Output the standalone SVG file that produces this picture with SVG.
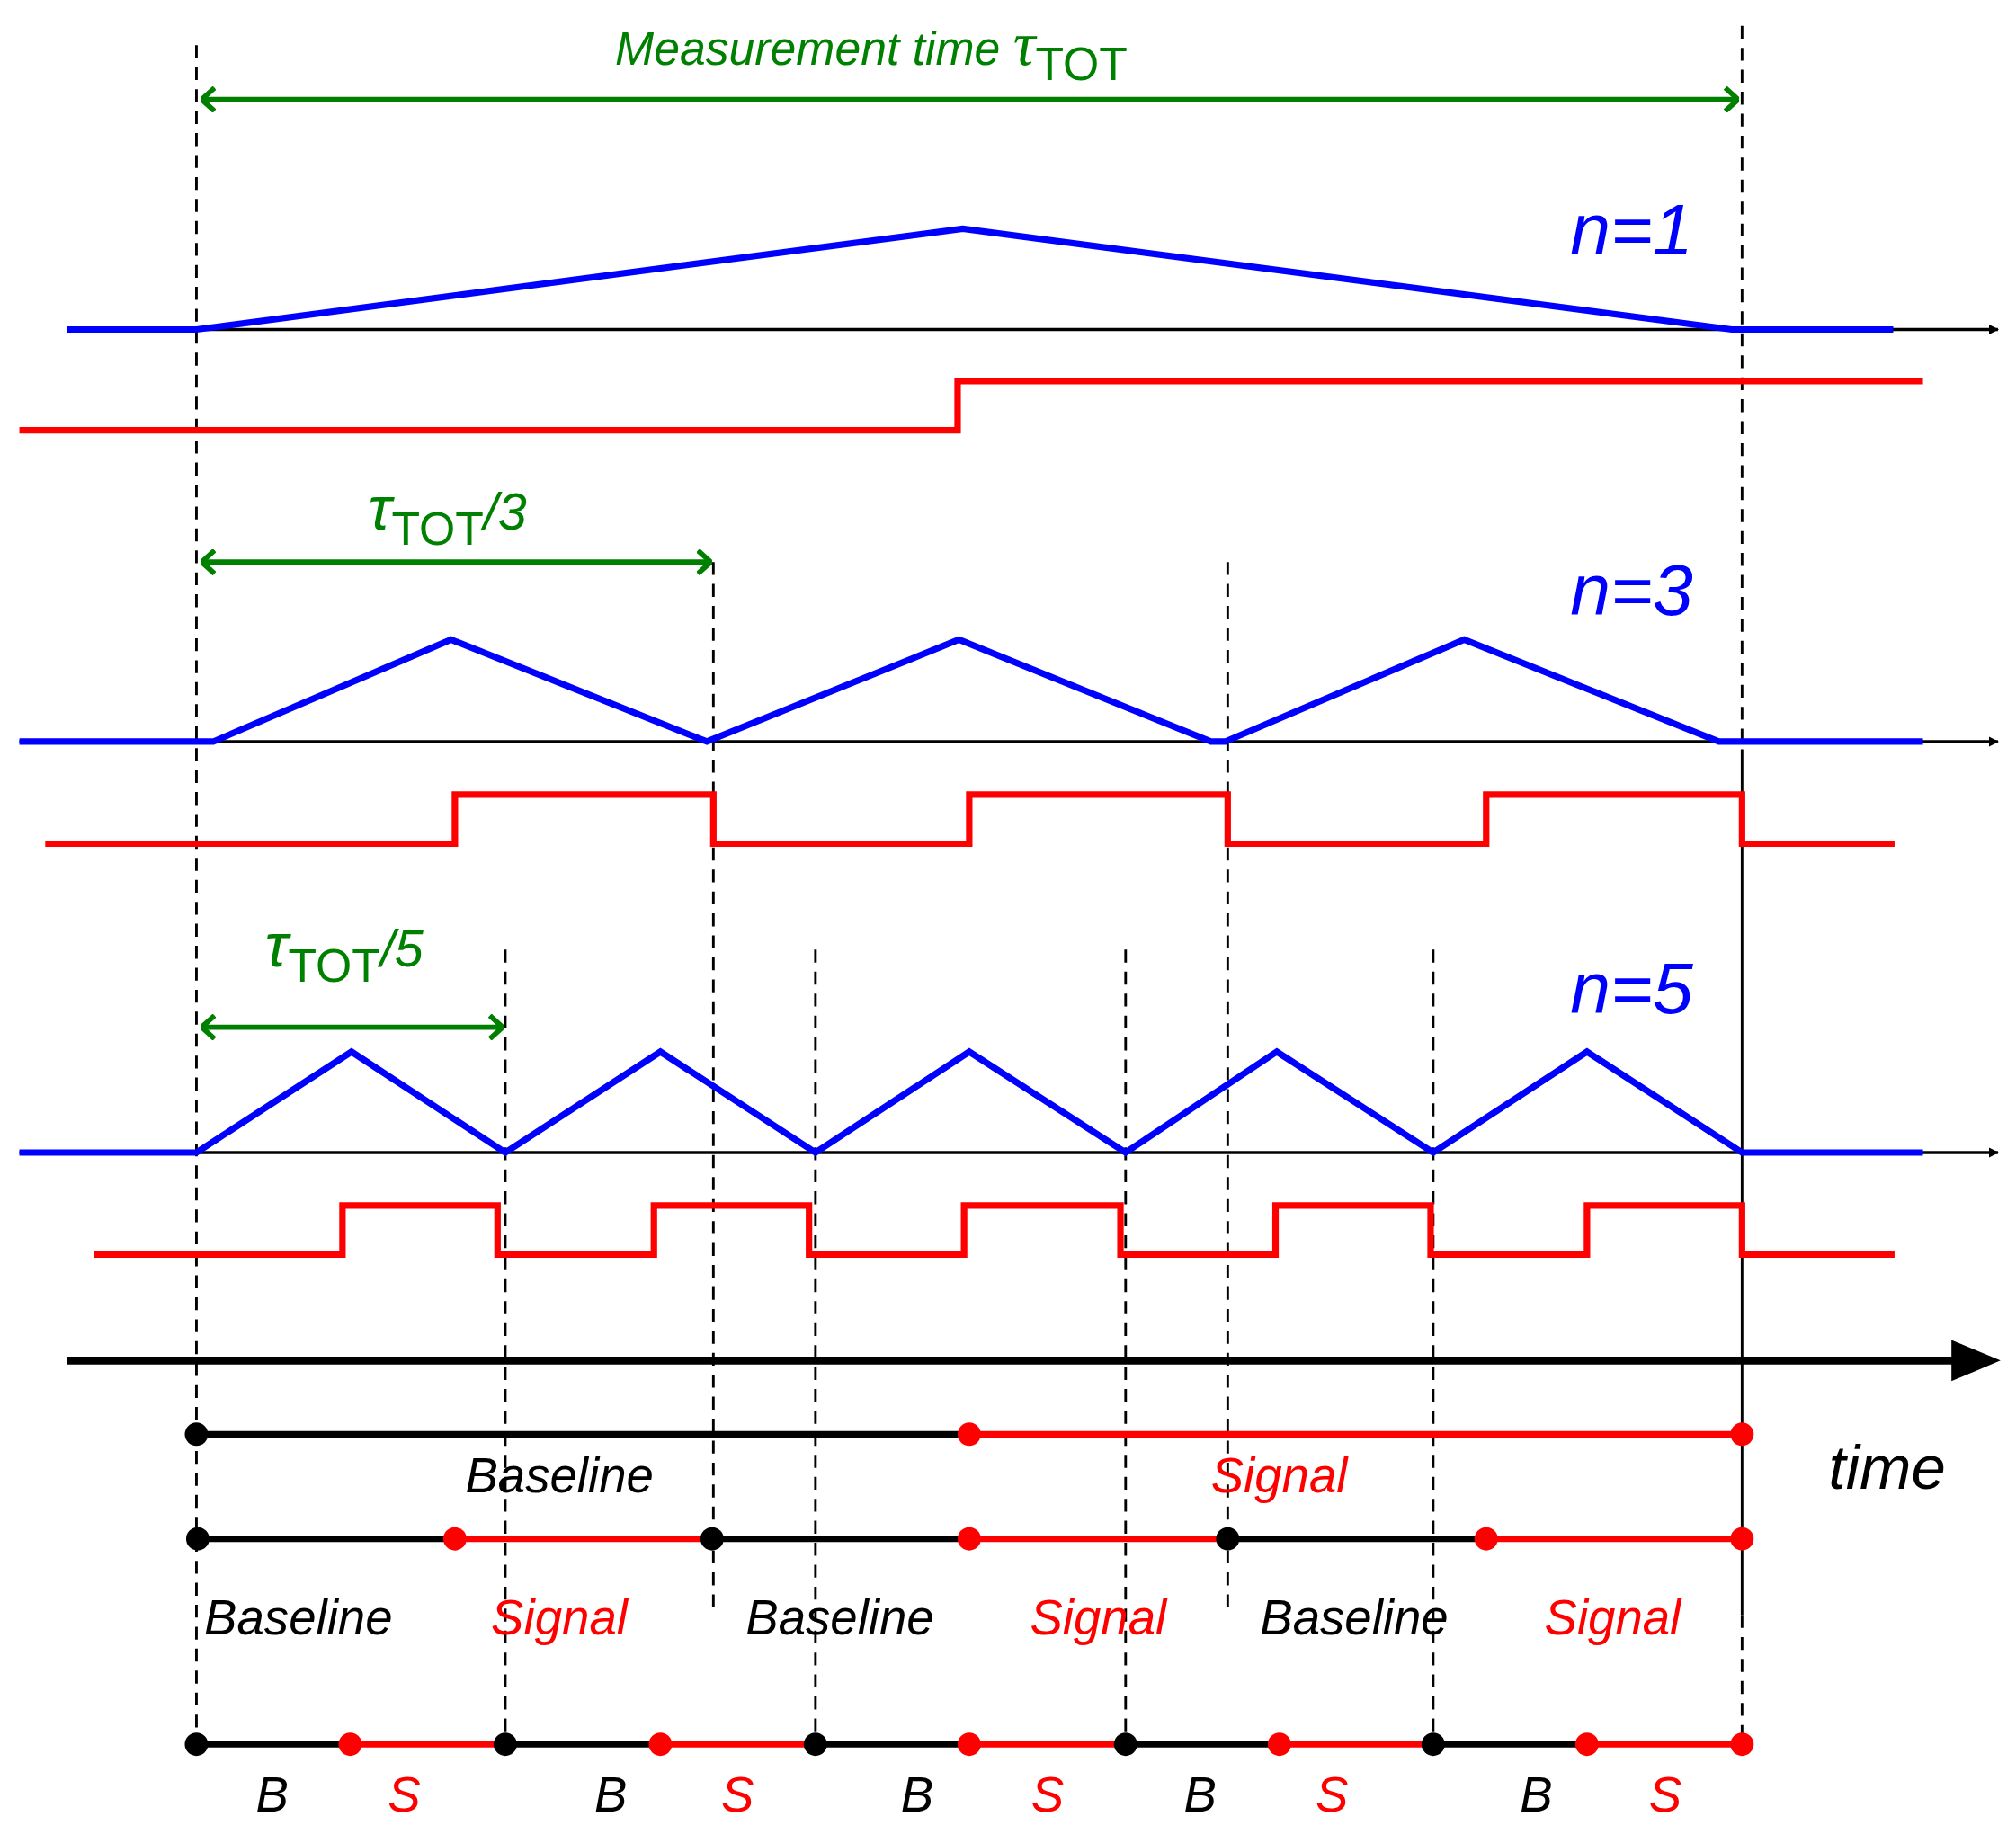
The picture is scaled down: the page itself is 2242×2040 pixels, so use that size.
<svg xmlns="http://www.w3.org/2000/svg" width="2242" height="2040" viewBox="0 0 2242 2040">
<style>
text{font-family:"Liberation Sans",Arial,sans-serif;font-style:italic}
.dash{stroke:#000;stroke-width:2;stroke-dasharray:10 7;fill:none}
.ax{stroke:#000;stroke-width:2.5;fill:none}
.blue{stroke:#0000ff;stroke-width:5;fill:none;stroke-linejoin:miter}
.red{stroke:#ff0000;stroke-width:5;fill:none}
.grn{stroke:#008000;stroke-width:4;fill:none}
.bl{stroke:#000;stroke-width:5}
.rl{stroke:#ff0000;stroke-width:5}
.bd{fill:#000}.rd{fill:#ff0000}
.g{fill:#008000}.b{fill:#0000ff}.k{fill:#000}.r{fill:#ff0000}
</style>
<defs>
<marker id="ah" viewBox="0 0 10 10" refX="9" refY="5" markerWidth="8" markerHeight="8" markerUnits="userSpaceOnUse" orient="auto"><path d="M0,0L10,5L0,10z" fill="#000"/></marker>
<marker id="ahb" viewBox="0 0 10 10" refX="9" refY="5" markerWidth="6" markerHeight="6" orient="auto"><path d="M0,0L10,5L0,10z" fill="#000"/></marker>
<marker id="ga" viewBox="0 0 12 20" refX="11" refY="10" markerWidth="12" markerHeight="20" markerUnits="userSpaceOnUse" orient="auto-start-reverse"><path d="M1,1L11,10L1,19" fill="none" stroke="#008000" stroke-width="4"/></marker>
</defs>
<rect width="2242" height="2040" fill="#fff"/>
<g transform="scale(1.4372)">
<g id="guides">
<line class="dash" x1="152" y1="35" x2="152" y2="1350"/>
<line class="dash" x1="1348" y1="20" x2="1348" y2="580"/>
<line x1="1348" y1="580" x2="1348" y2="1250" stroke="#000" stroke-width="2"/>
<line class="dash" x1="1348" y1="1250" x2="1348" y2="1350"/>
<line class="dash" x1="552" y1="435" x2="552" y2="1250"/>
<line class="dash" x1="950" y1="435" x2="950" y2="1250"/>
<line class="dash" x1="391" y1="735" x2="391" y2="1350"/>
<line class="dash" x1="631" y1="735" x2="631" y2="1350"/>
<line class="dash" x1="871" y1="735" x2="871" y2="1350"/>
<line class="dash" x1="1109" y1="735" x2="1109" y2="1350"/>
</g>
<g id="connectors">
<line class="grn" x1="156" y1="77" x2="1345" y2="77" marker-start="url(#ga)" marker-end="url(#ga)"/>
<line class="grn" x1="156" y1="435" x2="550" y2="435" marker-start="url(#ga)" marker-end="url(#ga)"/>
<line class="grn" x1="156" y1="795" x2="389" y2="795" marker-start="url(#ga)" marker-end="url(#ga)"/>
</g>
<g id="n1">
<line class="ax" x1="52" y1="255" x2="1546" y2="255" marker-end="url(#ah)"/>
<polyline class="blue" points="52,255 152,255 745,177 1340,255 1465,255"/>
<polyline class="red" points="15,333 741,333 741,295 1488,295"/>
<text x="1215" y="197" font-size="56" class="b">n=1</text>
<text x="476" y="50" font-size="36" class="g">Measurement time <tspan font-size="48" font-family="Liberation Serif,serif">τ</tspan><tspan font-size="36" dy="12" font-style="normal">TOT</tspan></text>
</g>
<g id="n3">
<line class="ax" x1="15" y1="574" x2="1546" y2="574" marker-end="url(#ah)"/>
<polyline class="blue" points="15,574 165,574 349,495 547,574 742,495 937,574 948,574 1133,495 1330,574 1488,574"/>
<polyline class="red" points="35,653 352,653 352,615 552,615 552,653 750,653 750,615 950,615 950,653 1150,653 1150,615 1348,615 1348,653 1466,653"/>
<text x="1215" y="476" font-size="56" class="b">n=3</text>
<text x="285" y="410" font-size="48" class="g" font-family="Liberation Serif,serif">τ<tspan font-size="36" dy="12" font-family="Liberation Sans,sans-serif" font-style="normal">TOT</tspan><tspan font-size="40" dy="-12" font-family="Liberation Sans,sans-serif">/3</tspan></text>
</g>
<g id="n5">
<line class="ax" x1="15" y1="892" x2="1546" y2="892" marker-end="url(#ah)"/>
<polyline class="blue" points="15,892 152,892 272,814 391,892 511,814 631,892 750,814 871,892 988,814 1109,892 1228,814 1348,892 1488,892"/>
<polyline class="red" points="73,971 265,971 265,933 385,933 385,971 506,971 506,933 626,933 626,971 746,971 746,933 867,933 867,971 987,971 987,933 1107,933 1107,971 1228,971 1228,933 1348,933 1348,971 1466,971"/>
<text x="1215" y="784" font-size="56" class="b">n=5</text>
<text x="205" y="748" font-size="48" class="g" font-family="Liberation Serif,serif">τ<tspan font-size="36" dy="12" font-family="Liberation Sans,sans-serif" font-style="normal">TOT</tspan><tspan font-size="40" dy="-12" font-family="Liberation Sans,sans-serif">/5</tspan></text>
</g>
<g id="time-axis">
<line x1="52" y1="1053" x2="1515" y2="1053" stroke="#000" stroke-width="6"/>
<path d="M1510,1037L1548,1053L1510,1069z" fill="#000"/>
<text x="1415" y="1152" font-size="48" class="k">time</text>
</g>
<g id="row1">
<line class="bl" x1="152" y1="1110" x2="750" y2="1110"/>
<line class="rl" x1="750" y1="1110" x2="1348" y2="1110"/>
<circle class="bd" cx="152" cy="1110" r="9"/><circle class="rd" cx="750" cy="1110" r="9"/><circle class="rd" cx="1348" cy="1110" r="9"/>
<text x="360" y="1155" font-size="38" class="k">Baseline</text>
<text x="937" y="1155" font-size="38" class="r">Signal</text>
</g>
<g id="row2">
<line class="bl" x1="153" y1="1191" x2="352" y2="1191"/><line class="rl" x1="352" y1="1191" x2="551" y2="1191"/>
<line class="bl" x1="551" y1="1191" x2="750" y2="1191"/><line class="rl" x1="750" y1="1191" x2="950" y2="1191"/>
<line class="bl" x1="950" y1="1191" x2="1150" y2="1191"/><line class="rl" x1="1150" y1="1191" x2="1348" y2="1191"/>
<circle class="bd" cx="153" cy="1191" r="9"/><circle class="rd" cx="352" cy="1191" r="9"/><circle class="bd" cx="551" cy="1191" r="9"/><circle class="rd" cx="750" cy="1191" r="9"/><circle class="bd" cx="950" cy="1191" r="9"/><circle class="rd" cx="1150" cy="1191" r="9"/><circle class="rd" cx="1348" cy="1191" r="9"/>
<text x="158" y="1265" font-size="38" class="k">Baseline</text>
<text x="380" y="1265" font-size="38" class="r">Signal</text>
<text x="577" y="1265" font-size="38" class="k">Baseline</text>
<text x="797" y="1265" font-size="38" class="r">Signal</text>
<text x="975" y="1265" font-size="38" class="k">Baseline</text>
<text x="1195" y="1265" font-size="38" class="r">Signal</text>
</g>
<g id="row3">
<line class="bl" x1="152" y1="1350" x2="271" y2="1350"/><line class="rl" x1="271" y1="1350" x2="391" y2="1350"/>
<line class="bl" x1="391" y1="1350" x2="511" y2="1350"/><line class="rl" x1="511" y1="1350" x2="631" y2="1350"/>
<line class="bl" x1="631" y1="1350" x2="750" y2="1350"/><line class="rl" x1="750" y1="1350" x2="871" y2="1350"/>
<line class="bl" x1="871" y1="1350" x2="990" y2="1350"/><line class="rl" x1="990" y1="1350" x2="1109" y2="1350"/>
<line class="bl" x1="1109" y1="1350" x2="1228" y2="1350"/><line class="rl" x1="1228" y1="1350" x2="1348" y2="1350"/>
<circle class="bd" cx="152" cy="1350" r="9"/><circle class="rd" cx="271" cy="1350" r="9"/><circle class="bd" cx="391" cy="1350" r="9"/><circle class="rd" cx="511" cy="1350" r="9"/><circle class="bd" cx="631" cy="1350" r="9"/><circle class="rd" cx="750" cy="1350" r="9"/><circle class="bd" cx="871" cy="1350" r="9"/><circle class="rd" cx="990" cy="1350" r="9"/><circle class="bd" cx="1109" cy="1350" r="9"/><circle class="rd" cx="1228" cy="1350" r="9"/><circle class="rd" cx="1348" cy="1350" r="9"/>
<g font-size="38">
<text x="198" y="1402" class="k">B</text><text x="300" y="1402" class="r">S</text>
<text x="460" y="1402" class="k">B</text><text x="558" y="1402" class="r">S</text>
<text x="697" y="1402" class="k">B</text><text x="798" y="1402" class="r">S</text>
<text x="916" y="1402" class="k">B</text><text x="1018" y="1402" class="r">S</text>
<text x="1176" y="1402" class="k">B</text><text x="1276" y="1402" class="r">S</text>
</g>
</g>
</g>
</svg>
